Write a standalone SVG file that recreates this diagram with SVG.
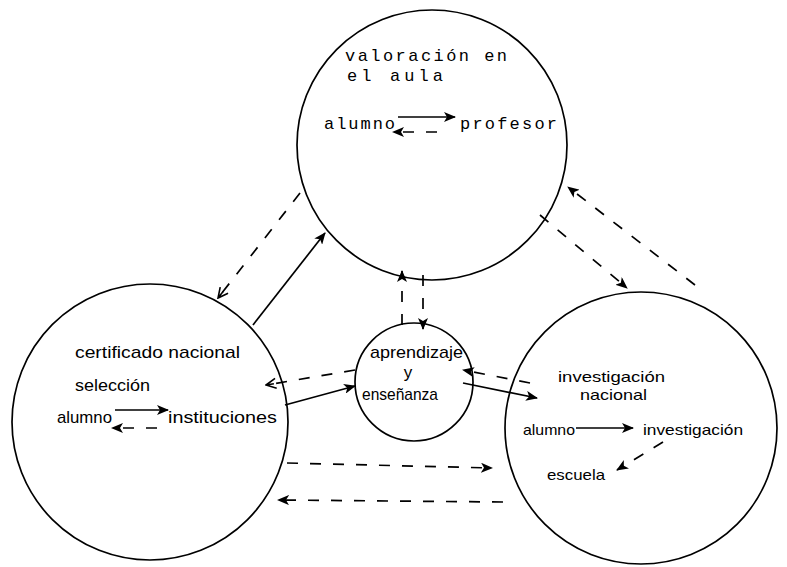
<svg xmlns="http://www.w3.org/2000/svg" width="787" height="567" viewBox="0 0 787 567">
<style>
.c{fill:none;stroke:#000;stroke-width:1.7}
.s{fill:none;stroke:#000;stroke-width:1.7}
.d{fill:none;stroke:#000;stroke-width:1.7;stroke-dasharray:11 12}
.m{font-family:"Liberation Mono",monospace;font-size:17px;fill:#000}
.t{font-family:"Liberation Sans",Arial,sans-serif;font-size:17px;fill:#000}
.r{font-family:"Liberation Sans",Arial,sans-serif;font-size:14.5px;fill:#000}
</style>
<defs>
<marker id="fa" viewBox="0 0 12 10" refX="11" refY="5" markerWidth="12" markerHeight="10" markerUnits="userSpaceOnUse" orient="auto">
<path d="M0,0 L12,5 L0,10 L3,5 z" fill="#000"/>
</marker>
<marker id="oa" viewBox="0 0 12 12" refX="11" refY="6" markerWidth="12" markerHeight="12" markerUnits="userSpaceOnUse" orient="auto">
<path d="M1,1 L11,6 L1,11 M3,6 L11,6" fill="none" stroke="#000" stroke-width="1.6"/>
</marker>
</defs>
<rect width="787" height="567" fill="#fff"/>
<g id="node-valoracion">
<circle class="c" cx="432" cy="145" r="135"/>
<text class="m" x="345" y="61" textLength="162" lengthAdjust="spacing">valoración en</text>
<text class="m" x="347" y="81" textLength="96" lengthAdjust="spacing">el aula</text>
<text class="m" x="324" y="129" textLength="71" lengthAdjust="spacing" font-size="19">alumno</text>
<text class="m" x="460" y="129" textLength="97" lengthAdjust="spacing" font-size="19">profesor</text>
<line class="s" x1="398" y1="117" x2="455" y2="117" marker-end="url(#fa)"/>
<line class="d" x1="437" y1="132" x2="393" y2="132" stroke-dasharray="6 8" marker-end="url(#fa)"/>
</g>
<g id="node-certificado">
<circle class="c" cx="150" cy="422" r="138"/>
<text class="t" x="75" y="358" textLength="165" lengthAdjust="spacingAndGlyphs">certificado nacional</text>
<text class="t" x="75" y="391" textLength="75" lengthAdjust="spacingAndGlyphs">selección</text>
<text class="t" x="57" y="423" textLength="55" lengthAdjust="spacingAndGlyphs">alumno</text>
<text class="t" x="168" y="423" textLength="109" lengthAdjust="spacingAndGlyphs">instituciones</text>
<line class="s" x1="115" y1="410" x2="168" y2="410" marker-end="url(#fa)"/>
<line class="d" x1="157" y1="428" x2="112" y2="428" stroke-dasharray="8 10" marker-end="url(#fa)"/>
</g>
<g id="node-aprendizaje">
<circle class="c" cx="414" cy="382" r="59"/>
<text class="t" x="370" y="358" textLength="93" lengthAdjust="spacingAndGlyphs">aprendizaje</text>
<text class="t" x="408" y="378" text-anchor="middle">y</text>
<text class="t" x="362" y="400" textLength="76" lengthAdjust="spacingAndGlyphs">enseñanza</text>
</g>
<g id="node-investigacion">
<circle class="c" cx="641" cy="428" r="136"/>
<text class="r" x="558" y="382" textLength="107" lengthAdjust="spacingAndGlyphs">investigación</text>
<text class="r" x="580" y="400" textLength="67" lengthAdjust="spacingAndGlyphs">nacional</text>
<text class="r" x="523" y="435" textLength="52" lengthAdjust="spacingAndGlyphs">alumno</text>
<text class="r" x="643" y="435" textLength="100" lengthAdjust="spacingAndGlyphs">investigación</text>
<text class="r" x="547" y="480" textLength="58" lengthAdjust="spacingAndGlyphs">escuela</text>
<line class="s" x1="576" y1="428" x2="633" y2="428" marker-end="url(#fa)"/>
<line class="d" x1="663" y1="442" x2="617" y2="470" stroke-dasharray="8 9" marker-end="url(#fa)"/>
</g>
<g id="connectors">
<line class="s" x1="253" y1="325" x2="325" y2="233" marker-end="url(#fa)"/>
<line class="d" x1="300" y1="193" x2="218" y2="298" marker-end="url(#oa)"/>
<line class="d" x1="402" y1="325" x2="402" y2="271" marker-end="url(#fa)"/>
<line class="d" x1="423" y1="275" x2="423" y2="329" marker-end="url(#fa)"/>
<line class="d" x1="695" y1="285" x2="568" y2="187" marker-end="url(#fa)"/>
<line class="d" x1="540" y1="215" x2="627" y2="288" marker-end="url(#fa)"/>
<line class="d" x1="355" y1="370" x2="266" y2="385" marker-end="url(#oa)"/>
<line class="s" x1="285" y1="405" x2="355" y2="386" marker-end="url(#fa)"/>
<line class="s" x1="463" y1="383" x2="537" y2="398" marker-end="url(#fa)"/>
<line class="d" x1="530" y1="383" x2="463" y2="370" stroke-dasharray="9 9" marker-end="url(#fa)"/>
<line class="d" x1="287" y1="463" x2="492" y2="468" marker-end="url(#fa)"/>
<line class="d" x1="503" y1="502" x2="278" y2="500" marker-end="url(#fa)"/>
</g>
</svg>
